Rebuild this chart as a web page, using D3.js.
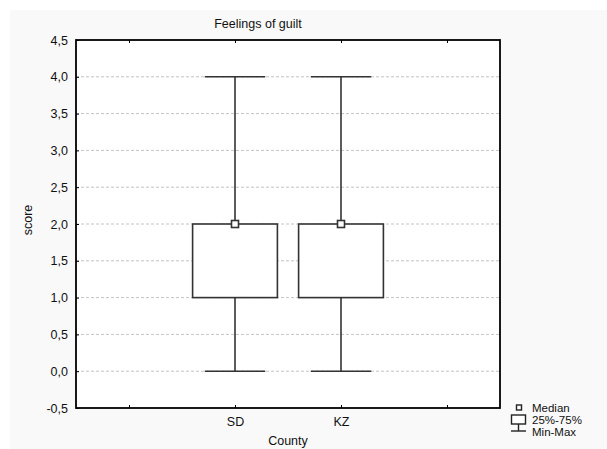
<!DOCTYPE html>
<html>
<head>
<meta charset="utf-8">
<script src="https://cdn.jsdelivr.net/npm/d3@7"></script>
<style>
  body { margin: 0; background: #fff; }
  text { font-family: Arial, "Liberation Sans", sans-serif; fill: #111; }
</style>
</head>
<body>
<script>
// chart data
var categories = ["SD", "KZ"];
var minVals = [0, 0];
var q1Vals = [1, 1];
var medianVals = [2, 2];
var q3Vals = [2, 2];
var maxVals = [4, 4];
var yTicks = [-0.5, 0, 0.5, 1, 1.5, 2, 2.5, 3, 3.5, 4, 4.5];

var svgWidth = 607, svgHeight = 449;
var margin = { top: 40, right: 107, bottom: 41, left: 76 };
var width = svgWidth - margin.left - margin.right;
var height = svgHeight - margin.top - margin.bottom;
var fontSize = "12.5px";

var root = d3.select("body").append("svg")
  .attr("width", svgWidth)
  .attr("height", svgHeight);

// light grey backdrop
root.append("rect")
  .attr("x", 10).attr("y", 10)
  .attr("width", svgWidth - 10).attr("height", svgHeight - 10)
  .attr("fill", "#f9f9f9");

var svg = root.append("g")
  .attr("transform", "translate(" + margin.left + "," + margin.top + ")");

svg.append("rect")
  .attr("width", width).attr("height", height)
  .attr("fill", "#fff");

// empty slot on each side of the two counties
var slots = ["_a"].concat(categories).concat(["_b"]);
var x = d3.scalePoint().domain(slots).range([0, width]).padding(0.5);
var step = x.step();
var y = d3.scaleLinear().domain([-0.5, 4.5]).range([height, 0]);

// comma decimals, plain hyphen for minus
var fmt = function(d) { return d.toFixed(1).replace(".", ","); };

// grid lines
svg.append("g")
  .selectAll("line")
  .data(yTicks.filter(function(d) { return d > -0.5 && d < 4.5; }))
  .enter().append("line")
  .attr("x1", 0).attr("x2", width)
  .attr("y1", function(d) { return y(d); })
  .attr("y2", function(d) { return y(d); })
  .attr("stroke", "#c4c4c4")
  .attr("stroke-dasharray", "3,2");

// y axis
var leftAxis = d3.axisLeft(y).tickValues(yTicks).tickFormat(fmt).tickSize(-3).tickPadding(8);
var gy = svg.append("g").call(leftAxis);
gy.select(".domain").remove();
gy.selectAll("line").attr("stroke", "#000");
gy.selectAll("text").style("font-size", fontSize);

// x axis (bottom + mirrored top ticks)
var bottomAxis = d3.axisBottom(x).tickSize(-3).tickPadding(9)
  .tickFormat(function(d) { return d.charAt(0) === "_" ? "" : d; });
var gx = svg.append("g").attr("transform", "translate(0," + height + ")").call(bottomAxis);
gx.select(".domain").remove();
gx.selectAll("line").attr("stroke", "#000");
gx.selectAll("text").style("font-size", fontSize);

var gt = svg.append("g").call(d3.axisTop(x).tickSize(-3).tickFormat(""));
gt.select(".domain").remove();
gt.selectAll("line").attr("stroke", "#000");

// box plots
var boxes = svg.selectAll(".box")
  .data(categories)
  .enter().append("g")
  .attr("class", "box");

var boxW = step * 0.8, capW = step * 0.57;
var stroke = "#333";

boxes.append("line")
  .attr("x1", function(d) { return x(d); })
  .attr("x2", function(d) { return x(d); })
  .attr("y1", function(d, i) { return y(maxVals[i]); })
  .attr("y2", function(d, i) { return y(minVals[i]); })
  .attr("stroke", stroke).attr("stroke-width", 1.6);

boxes.append("line")
  .attr("x1", function(d) { return x(d) - capW / 2; })
  .attr("x2", function(d) { return x(d) + capW / 2; })
  .attr("y1", function(d, i) { return y(maxVals[i]); })
  .attr("y2", function(d, i) { return y(maxVals[i]); })
  .attr("stroke", stroke).attr("stroke-width", 1.6);

boxes.append("line")
  .attr("x1", function(d) { return x(d) - capW / 2; })
  .attr("x2", function(d) { return x(d) + capW / 2; })
  .attr("y1", function(d, i) { return y(minVals[i]); })
  .attr("y2", function(d, i) { return y(minVals[i]); })
  .attr("stroke", stroke).attr("stroke-width", 1.6);

boxes.append("rect")
  .attr("x", function(d) { return x(d) - boxW / 2; })
  .attr("y", function(d, i) { return y(q3Vals[i]); })
  .attr("width", boxW)
  .attr("height", function(d, i) { return y(q1Vals[i]) - y(q3Vals[i]); })
  .attr("fill", "#fff")
  .attr("stroke", stroke).attr("stroke-width", 1.6);

boxes.append("rect")
  .attr("x", function(d) { return x(d) - 3.5; })
  .attr("y", function(d, i) { return y(medianVals[i]) - 3.5; })
  .attr("width", 7).attr("height", 7)
  .attr("fill", "#fff")
  .attr("stroke", stroke).attr("stroke-width", 1.6);

// frame
svg.append("rect")
  .attr("width", width).attr("height", height)
  .attr("fill", "none")
  .attr("stroke", "#000").attr("stroke-width", 1.8);

// titles
root.append("text")
  .attr("x", 258).attr("y", 28)
  .attr("text-anchor", "middle")
  .style("font-size", fontSize)
  .text("Feelings of guilt");

root.append("text")
  .attr("transform", "translate(32,220) rotate(-90)")
  .attr("text-anchor", "middle")
  .style("font-size", fontSize)
  .text("score");

root.append("text")
  .attr("x", 288).attr("y", 445)
  .attr("text-anchor", "middle")
  .style("font-size", fontSize)
  .text("County");

// legend
var lg = root.append("g").attr("transform", "translate(511,402)");
lg.append("rect").attr("x", 5.5).attr("y", 3).attr("width", 5).attr("height", 5)
  .attr("fill", "#fff").attr("stroke", "#222").attr("stroke-width", 1.4);
lg.append("rect").attr("x", 0.5).attr("y", 13).attr("width", 14).attr("height", 9)
  .attr("fill", "#fff").attr("stroke", "#222").attr("stroke-width", 1.4);
lg.append("line").attr("x1", 7.5).attr("x2", 7.5).attr("y1", 22).attr("y2", 29)
  .attr("stroke", "#222").attr("stroke-width", 1.4);
lg.append("line").attr("x1", 0).attr("x2", 15).attr("y1", 29).attr("y2", 29)
  .attr("stroke", "#222").attr("stroke-width", 1.4);
var legendLabels = ["Median", "25%-75%", "Min-Max"];
lg.selectAll(".lt").data(legendLabels).enter().append("text")
  .attr("x", 21).attr("y", function(d, i) { return 10 + i * 12; })
  .style("font-size", "11.5px")
  .text(function(d) { return d; });
</script>
</body>
</html>
